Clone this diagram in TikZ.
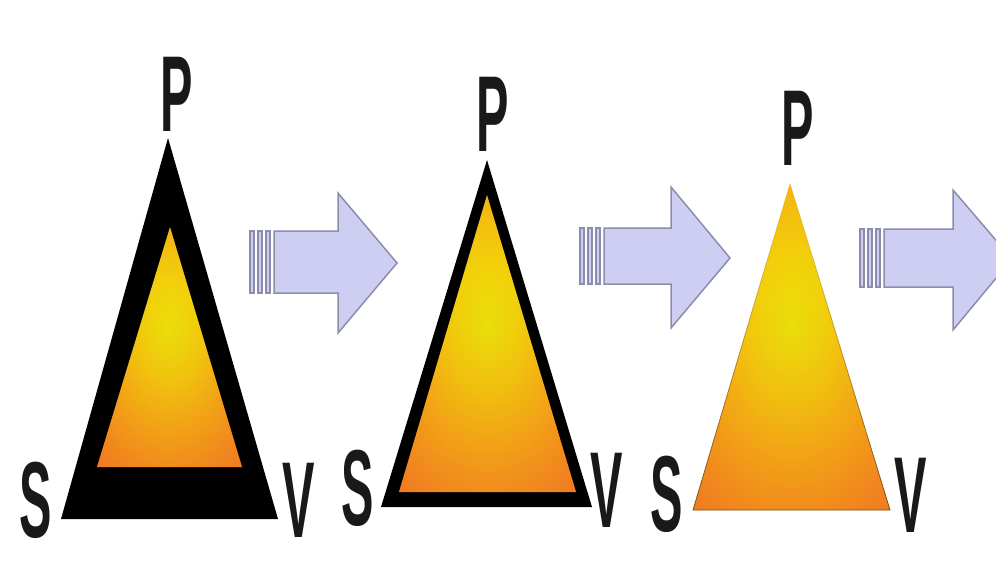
\documentclass[tikz,border=0pt]{standalone}
\usepackage{fontspec}
\setmainfont{Liberation Sans}
\usetikzlibrary{fadings}
\definecolor{arrowfill}{RGB}{206,206,243}
\definecolor{arrowedge}{RGB}{140,140,172}
\definecolor{tipedge}{RGB}{120,80,20}
\definecolor{baseglow}{RGB}{235,95,40}
% yellow core fading to orange at the base
\pgfdeclareradialshading{flame}{\pgfpoint{0bp}{3bp}}{rgb(0bp)=(0.92,0.96,0.02);rgb(10bp)=(0.95,0.87,0.03);rgb(20bp)=(0.96,0.74,0.06);rgb(30bp)=(0.96,0.61,0.1);rgb(40bp)=(0.95,0.5,0.15);rgb(50bp)=(0.93,0.46,0.2);rgb(80bp)=(0.93,0.46,0.2)}
\begin{document}
\begin{tikzpicture}[x=1pt,y=-1pt,
    letter/.style={font=\fontsize{108}{108}\selectfont\bfseries, text=black!90, inner sep=0pt, xscale=0.45},
    glow/.style={fill=baseglow, path fading=north, fill opacity=0.35},
    stripe/.style={fill=arrowfill, draw=arrowedge, line width=1.2pt},
    blockarrow/.style={fill=arrowfill, draw=arrowedge, line width=1.5pt, line join=miter}]
  \useasboundingbox (0,0) rectangle (996,563);
  \clip (0,0) rectangle (996,563);

  % first pyramid, heavy black rim
  \fill[black] (168,138) -- (61,519) -- (278,519) -- cycle;
  \shade[shading=flame] (170,227) -- (97,467) -- (242,467) -- cycle;
  \fill[glow] (170,227) -- (97,467) -- (242,467) -- cycle;
  \node[letter] (p1) at (177,94) {P};
  \node[letter] (s1) at (36,500) {S};
  \node[letter] (v1) at (299,500) {V};

  % second pyramid, thin rim
  \fill[black] (487,160) -- (381,507) -- (592,507) -- cycle;
  \shade[shading=flame] (487,195) -- (399,492) -- (576,492) -- cycle;
  \fill[glow] (487,195) -- (399,492) -- (576,492) -- cycle;
  \node[letter] (p2) at (493,114) {P};
  \node[letter] (s2) at (358,488) {S};
  \node[letter] (v2) at (607,490) {V};

  % third pyramid, no rim
  \shade[shading=flame] (790,183) -- (693,510) -- (890,510) -- cycle;
  \filldraw[glow, draw=tipedge, line width=0.8pt] (790,183) -- (693,510) -- (890,510) -- cycle;
  \node[letter] (p3) at (798,128) {P};
  \node[letter] (s3) at (667,494) {S};
  \node[letter] (v3) at (911,495) {V};

  % arrows
  \foreach \s in {250,258,266} \filldraw[stripe] (\s,231) rectangle ++(4,62);
  \filldraw[blockarrow] (274,231) -- (338,231) -- (338,193) -- (397,263) -- (338,333) -- (338,293) -- (274,293) -- cycle;

  \foreach \s in {580,588,596} \filldraw[stripe] (\s,228) rectangle ++(4,56);
  \filldraw[blockarrow] (604,228) -- (671,228) -- (671,187) -- (730,258) -- (671,328) -- (671,284) -- (604,284) -- cycle;

  \foreach \s in {860,868,876} \filldraw[stripe] (\s,229) rectangle ++(4,58);
  \filldraw[blockarrow] (884,229) -- (953,229) -- (953,190) -- (1012,259) -- (953,330) -- (953,287) -- (884,287) -- cycle;
\end{tikzpicture}
\end{document}
